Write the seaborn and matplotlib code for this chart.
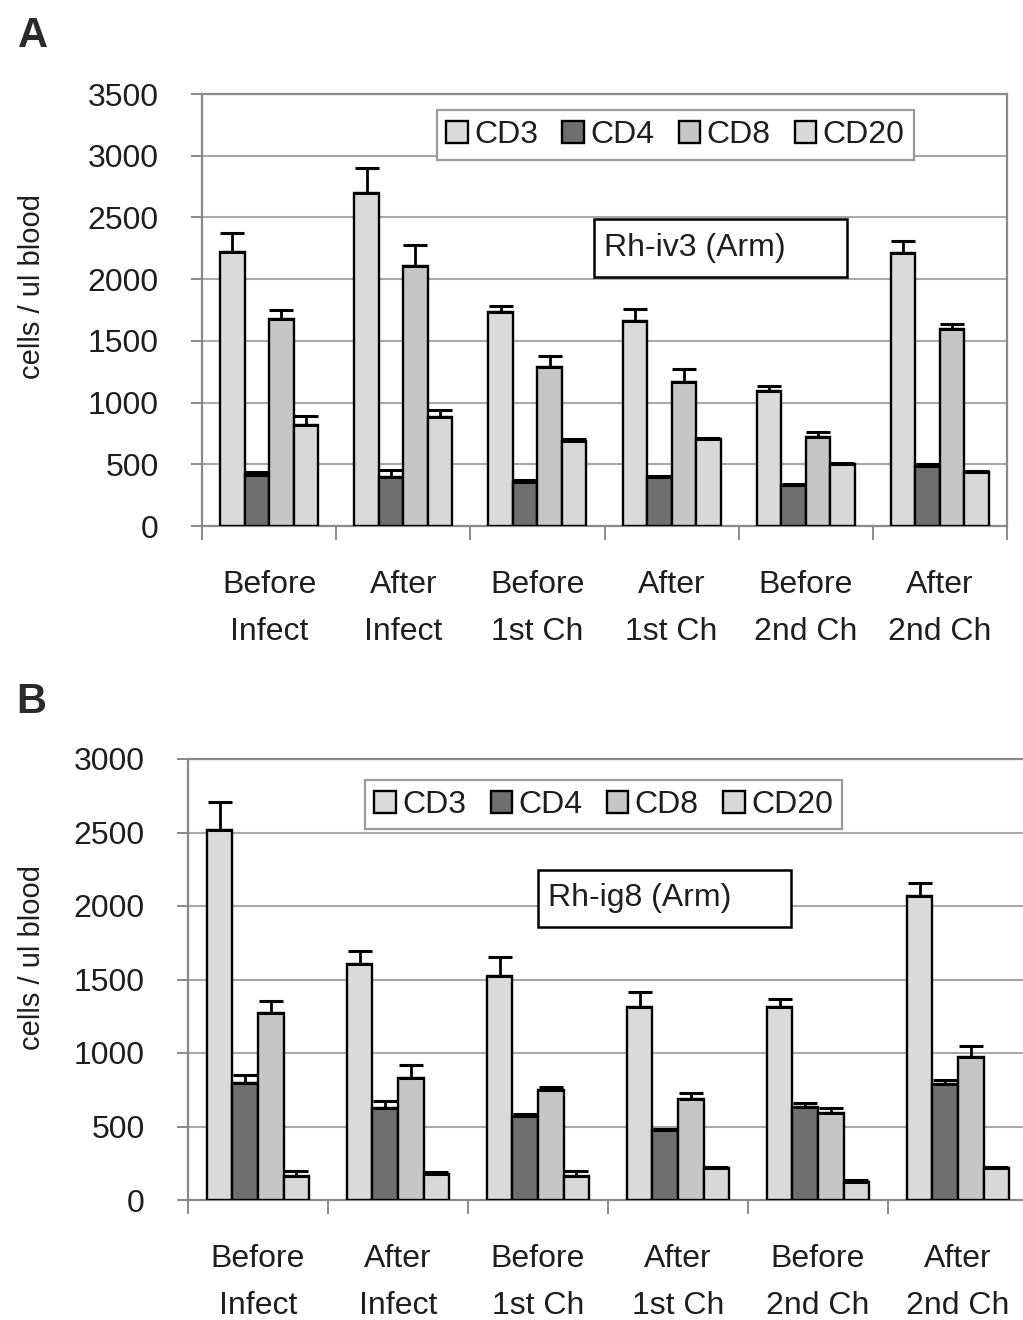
import numpy as np
import pandas as pd
import matplotlib
matplotlib.use("Agg")
import matplotlib.pyplot as plt
from matplotlib.patches import Rectangle
from matplotlib.ticker import FixedLocator
import seaborn as sns

# ---------------- data ----------------
timepoints = ["Before\nInfect", "After\nInfect", "Before\n1st Ch",
              "After\n1st Ch", "Before\n2nd Ch", "After\n2nd Ch"]
markers = ["CD3", "CD4", "CD8", "CD20"]

# Panel A: Rh-iv3 (Arm)
a_cd3 = [2220, 2700, 1735, 1660, 1090, 2210]
a_cd4 = [410, 400, 360, 395, 330, 490]
a_cd8 = [1680, 2110, 1290, 1165, 720, 1600]
a_cd20 = [820, 880, 690, 705, 500, 435]
a_cd3_err = [150, 200, 50, 100, 45, 95]
a_cd4_err = [30, 50, 10, 10, 10, 15]
a_cd8_err = [70, 170, 85, 105, 40, 35]
a_cd20_err = [70, 60, 15, 10, 10, 10]

# Panel B: Rh-ig8 (Arm)
b_cd3 = [2515, 1605, 1525, 1315, 1315, 2070]
b_cd4 = [795, 625, 570, 475, 630, 790]
b_cd8 = [1275, 830, 750, 690, 595, 970]
b_cd20 = [165, 175, 165, 215, 125, 215]
b_cd3_err = [190, 90, 125, 100, 50, 85]
b_cd4_err = [55, 50, 15, 10, 30, 25]
b_cd8_err = [80, 85, 20, 35, 30, 80]
b_cd20_err = [35, 15, 35, 10, 8, 10]

panel_a_title = "Rh-iv3 (Arm)"
panel_b_title = "Rh-ig8 (Arm)"
ylabel = "cells / ul blood"

colors = ["#dadada", "#6f6f6f", "#c6c6c6", "#d8d8d8"]
grid_col = "#a8a8a8"
axis_col = "#8a8a8a"
text_col = "#1e1e1e"

sns.set_theme(style="white")
plt.rcParams["font.family"] = ["Liberation Sans", "DejaVu Sans"]

def make_df(vals, errs):
    rows = []
    for m, v, e in zip(markers, vals, errs):
        for t, vv, ee in zip(timepoints, v, e):
            rows.append({"time": t, "marker": m, "value": vv, "err": ee})
    return pd.DataFrame(rows)

df_a = make_df([a_cd3, a_cd4, a_cd8, a_cd20],
               [a_cd3_err, a_cd4_err, a_cd8_err, a_cd20_err])
df_b = make_df([b_cd3, b_cd4, b_cd8, b_cd20],
               [b_cd3_err, b_cd4_err, b_cd8_err, b_cd20_err])

W, H = 1023, 1320
fig = plt.figure(figsize=(W / 100, H / 100), dpi=100)

def px_axes(l, r, t, b):
    return fig.add_axes([l / W, 1 - b / H, (r - l) / W, (b - t) / H])

ax_a = px_axes(202, 1007, 94, 526)
ax_b = px_axes(188, 1028, 759, 1200)

FS = 23

def draw_panel(ax, df, ymax, title, leg_box, ann_box, ann_text_x, ylab_xy):
    sns.barplot(data=df, x="time", y="value", hue="marker", order=timepoints,
                hue_order=markers, palette=colors, width=0.73, edgecolor="black",
                linewidth=1.7, errorbar=None, saturation=1, ax=ax, zorder=3)
    # error bars (upper only)
    for cont, m in zip(ax.containers, markers):
        sub = df[df["marker"] == m].set_index("time").loc[timepoints]
        xs = [p.get_x() + p.get_width() / 2 for p in cont.patches]
        ys = [p.get_height() for p in cont.patches]
        errs = sub["err"].values
        ax.errorbar(xs, ys, yerr=[np.zeros(len(errs)), errs], fmt="none",
                    ecolor="black", elinewidth=2.0, capsize=8.5, capthick=2.2,
                    zorder=4)
    ax.set_ylim(0, ymax)
    ax.set_xlim(-0.5, len(timepoints) - 0.5)
    ax.set_yticks(np.arange(0, ymax + 1, 500))
    ax.yaxis.grid(True, color=grid_col, linewidth=1.5, zorder=0)
    ax.xaxis.grid(False)
    ax.set_axisbelow(True)
    ax.tick_params(axis="y", which="major", length=8, width=1.4, color=axis_col,
                   labelsize=FS, labelcolor=text_col, pad=23, direction="out",
                   left=True)
    ax.tick_params(axis="x", which="major", length=0, labelsize=FS,
                   labelcolor=text_col, pad=32)
    ax.xaxis.set_minor_locator(FixedLocator(np.arange(-0.5, len(timepoints), 1.0)))
    ax.tick_params(axis="x", which="minor", length=10, width=1.4, color=axis_col,
                   direction="out", bottom=True)
    for lab in ax.get_xticklabels():
        lab.set_linespacing(1.72)
    for s in ["left", "bottom", "right", "top"]:
        ax.spines[s].set_color(axis_col)
        ax.spines[s].set_linewidth(1.6)
    ax.set_xlabel("")
    ax.set_ylabel(ylabel, fontsize=21, color=text_col)
    ax.yaxis.set_label_coords(*ylab_xy)
    ax.yaxis.label.set_va("center")
    # legend
    handles, labels = ax.get_legend_handles_labels()
    if ax.get_legend() is not None:
        ax.get_legend().remove()
    lx0, lx1, ly0, ly1 = leg_box
    leg = ax.legend(handles, labels, ncol=4, loc="center",
                    bbox_to_anchor=((lx0 + lx1) / 2, (ly0 + ly1) / 2),
                    fontsize=FS, frameon=True, fancybox=False, shadow=False,
                    handlelength=0.68, handleheight=0.68, handletextpad=0.2,
                    columnspacing=0.75, borderpad=0.3, borderaxespad=0)
    leg.get_frame().set_edgecolor("#9a9a9a")
    leg.get_frame().set_linewidth(1.6)
    leg.get_frame().set_facecolor("white")
    leg.get_frame().set_alpha(1)
    for t in leg.get_texts():
        t.set_color(text_col)
    # annotation box
    bx0, bx1, by0, by1 = ann_box
    ax.add_patch(Rectangle((bx0, by0), bx1 - bx0, by1 - by0, transform=ax.transAxes,
                           facecolor="white", edgecolor="black", linewidth=1.8,
                           zorder=5))
    ax.text(ann_text_x, (by0 + by1) / 2, title, transform=ax.transAxes,
            ha="left", va="center", fontsize=FS, color=text_col, zorder=6)

draw_panel(ax_a, df_a, 3500, panel_a_title,
           leg_box=(0.2857, 0.8907, 0.854, 0.956),
           ann_box=(0.487, 0.801, 0.577, 0.7106), ann_text_x=0.499,
           ylab_xy=(-0.211, 0.555))
draw_panel(ax_b, df_b, 3000, panel_b_title,
           leg_box=(0.2056, 0.784, 0.837, 0.955),
           ann_box=(0.417, 0.7175, 0.62, 0.748), ann_text_x=0.428,
           ylab_xy=(-0.186, 0.549))

fig.text(33 / W, 1 - 36 / H, "A", ha="center", va="center", fontsize=30,
         fontweight="bold", color="#2a2a2a")
fig.text(31 / W, 1 - 702 / H, "B", ha="center", va="center", fontsize=30,
         fontweight="bold", color="#2a2a2a")

fig.savefig("out.png", dpi=100, facecolor="white")
